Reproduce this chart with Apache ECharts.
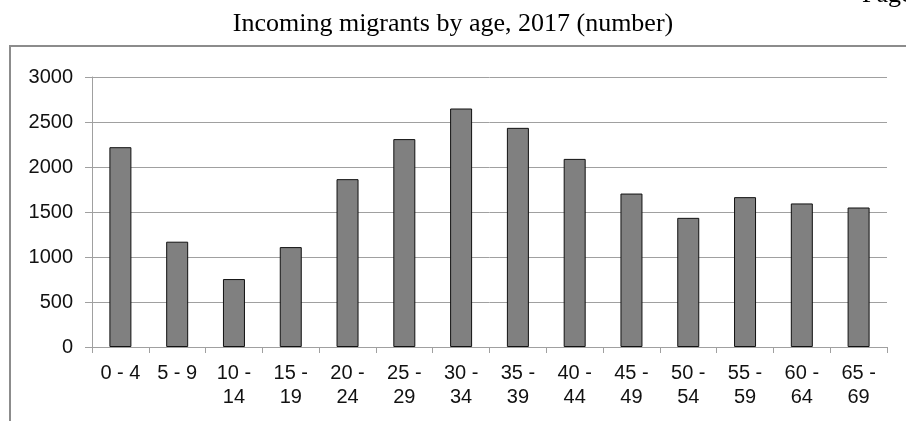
<!DOCTYPE html>
<html>
<head>
<meta charset="utf-8">
<script src="https://cdn.jsdelivr.net/npm/echarts@6/dist/echarts.min.js"></script>
<style>
  html, body { margin: 0; padding: 0; background: #fff; }
  #chart { width: 906px; height: 421px; }
</style>
</head>
<body>
<div id="chart"></div>
<script>
  // age groups (wrapped the way the original shows them)
  const ageGroups = ['0 - 4', '5 - 9', '10 -\n14', '15 -\n19', '20 -\n24', '25 -\n29', '30 -\n34',
    '35 -\n39', '40 -\n44', '45 -\n49', '50 -\n54', '55 -\n59', '60 -\n64', '65 -\n69']
  // incoming migrants
  const migrants = [2220, 1170, 755, 1110, 1865, 2310, 2650, 2435, 2090, 1705, 1435, 1665, 1595, 1550]
  const yTicks = [0, 500, 1000, 1500, 2000, 2500, 3000]

  const chart = echarts.init(document.getElementById('chart'))
  const sans = '"Liberation Sans", Arial, sans-serif'
  const serif = '"Liberation Serif", "Times New Roman", serif'

  const option = {
    animation: false,
    title: {
      text: 'Incoming migrants by age, 2017 (number)',
      left: 'center',
      top: 6,
      textStyle: { fontFamily: serif, fontSize: 26, fontWeight: 'normal', color: '#000' }
    },
    graphic: [
      {
        // outer frame, cut off at right and bottom
        type: 'rect',
        shape: { x: 10, y: 46, width: 1000, height: 500 },
        style: { fill: 'none', stroke: '#8c8c8c', lineWidth: 2 },
        silent: true
      },
      {
        type: 'text',
        left: 862,
        top: -18,
        style: { text: 'Page', font: '26px ' + serif, fill: '#000' }
      }
    ],
    grid: { left: 92, right: 19, top: 77, bottom: 74 },
    xAxis: {
      type: 'category',
      data: ageGroups,
      axisLine: { lineStyle: { color: '#a0a0a0', width: 1 } },
      axisTick: { show: true, length: 6, lineStyle: { color: '#a0a0a0' } },
      axisLabel: { color: '#111', fontFamily: sans, fontSize: 20, lineHeight: 24, margin: 14, interval: 0 }
    },
    yAxis: {
      type: 'value',
      min: yTicks[0],
      max: yTicks[yTicks.length - 1],
      interval: 500,
      axisLine: { show: true, lineStyle: { color: '#a0a0a0' } },
      axisTick: { show: true, length: 7, lineStyle: { color: '#a0a0a0' } },
      splitLine: { lineStyle: { color: '#a0a0a0', width: 1 } },
      axisLabel: { color: '#111', fontFamily: sans, fontSize: 20, margin: 19, formatter: v => String(v) }
    },
    series: [
      {
        type: 'bar',
        data: migrants,
        barWidth: 22,
        itemStyle: { color: '#808080', borderColor: '#111', borderWidth: 1 }
      }
    ]
  }
  chart.setOption(option)
</script>
</body>
</html>
